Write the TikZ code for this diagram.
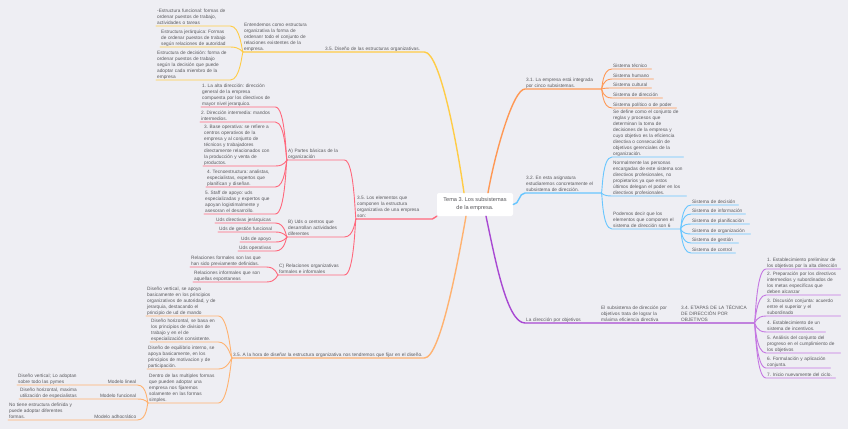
\documentclass[tikz,border=0pt]{standalone}
\usepackage{fontspec}
\setmainfont{Liberation Sans}
\usepackage{tikz}

\definecolor{bg}{RGB}{238,238,243}
\definecolor{ink}{RGB}{88,88,92}
\definecolor{ylw}{RGB}{255,204,70}
\definecolor{rd}{RGB}{255,104,124}
\definecolor{org}{RGB}{255,152,84}
\definecolor{lorg}{RGB}{255,178,112}
\definecolor{blu}{RGB}{104,198,255}
\definecolor{prp}{RGB}{168,72,210}
\definecolor{lprp}{RGB}{196,118,226}

\begin{document}
\begin{tikzpicture}[x=1pt,y=-1pt,
    lbl/.style={anchor=south west,inner xsep=1pt,inner ysep=0pt,align=left,
      text=ink,font=\fontsize{4.75}{5.9}\selectfont\frenchspacing,execute at end node=\strut},
    hub/.style={fill=white,rounded corners=2pt,minimum width=76pt,minimum height=23pt,
      align=center,text=ink,font=\fontsize{5.6}{8}\selectfont\frenchspacing},
    trunk/.style={line width=1.4pt,line cap=round},
    twig/.style={line width=0.9pt,line cap=round},
    rkid/.style={out=0,in=180,out distance=1pt,in distance=10pt},
    lkid/.style={out=180,in=0,out distance=1pt,in distance=10pt}]

    \useasboundingbox (0,0) rectangle (848,429);
    \fill[bg] (0,0) rectangle (848,429);

    % Centre
    \node[hub] (ctr) at (475,204.5) {Tema 3. Los subsistemas\\de la empresa.};

    % Diseno de las estructuras
    \node[lbl,text width=98pt] (dis) at (324,52) {3.5. Diseño de las estructuras organizativas.};
    \node[lbl,text width=73pt] (ent) at (243,52) {Entendemos como estructura\\organizativa la forma de\\ordenanr todo el conjunto de\\relaciones existentes de la\\empresa.};
    \node[lbl,text width=72pt] (efu) at (156,26) {-Estructura funcional: formas de\\ordenar puestos de trabajo,\\actividades o tareas};
    \node[lbl,text width=68pt] (eje) at (160,47) {Estructura jerárquica: Formas\\de ordenar puestos de trabajo\\según relaciones de autoridad};
    \node[lbl,text width=72pt] (ede) at (156,80) {Estructura de decisión: forma de\\ordenar puestos de trabajo\\según la decisión que puede\\adoptar cada miembro de la\\empresa};

    % Elementos de la estructura
    \node[lbl,text width=74pt] (ele) at (356,219) {3.5. Los elementos que\\componen la estructura\\organizativa de una empresa\\son:};
    \node[lbl,text width=55pt] (pba) at (287,160) {A) Partes básicas de la\\organización};
    \node[lbl,text width=55pt] (uds) at (287,237) {B) Uds o centros que\\desarrollan actividades\\diferentes};
    \node[lbl,text width=64pt] (rel) at (278,275) {C) Relaciones organizativas\\formales e informales};
    \node[lbl,text width=72pt] (a1) at (201,107) {1. La alta dirección: dirección\\general de la empresa\\compuesta por los directivos de\\mayor nivel jerarquico.};
    \node[lbl,text width=73pt] (a2) at (200,122) {2. Dirección intermedia: mandos\\intermedios.};
    \node[lbl,text width=70pt] (a3) at (203,166) {3. Base operativa: se refiere a\\centros operativos de la\\empresa y al conjunto de\\técnicos y trabajadores\\directamente relacionados con\\la producción y venta de\\productos.};
    \node[lbl,text width=67pt] (a4) at (206,187) {4. Tecnoestructura: analistas,\\especialistas, expertos que\\planifican y diseñan.};
    \node[lbl,text width=69pt] (a5) at (204,214) {5. Staff de apoyo: uds\\especializadas y expertos que\\apoyan logistimalmente y\\asesoran el desarrollo.};
    \node[lbl,text width=58pt] (b1) at (215,223) {Uds directivas jerárquicas};
    \node[lbl,text width=55pt] (b2) at (218,232) {Uds de gestión funcional};
    \node[lbl,text width=33pt] (b3) at (240,242) {Uds de apoyo};
    \node[lbl,text width=35pt] (b4) at (238,251) {Uds operativas};
    \node[lbl,text width=74pt] (c1) at (190,267) {Relaciones formales son las que\\han sido previamente definidas.};
    \node[lbl,text width=71pt] (c2) at (193,282) {Relaciones informales que son\\aquellas espontaneas};

    % A la hora de disenar
    \node[lbl,text width=190pt] (hor) at (232,358) {3.5. A la hora de diseñar la estructura organizativa nos tendremos que fijar en el diseño.};
    \node[lbl,text width=70pt] (dv) at (146,316) {Diseño vertical, se apoya\\basicamente en los principios\\organizativos de autoridad, y de\\jerarquia, destacando el\\principio de ud de mando};
    \node[lbl,text width=66pt] (dh) at (150,342) {Diseño horizontal, se basa en\\los principios de division de\\trabajo y en el de\\especialización consistente.};
    \node[lbl,text width=69pt] (deq) at (147,369) {Diseño de equilibrio interno, se\\apoya basicamente, en los\\principios de motivacion y de\\participación.};
    \node[lbl,text width=68pt] (den) at (148,403) {Dentro de las multiples formas\\que pueden adoptar una\\empresa nos fijaremos\\solamente en las formas\\simples.};
    \node[lbl,text width=35pt,align=right] (mli) at (100,385) {Modelo lineal};
    \node[lbl,text width=41pt,align=right] (mfu) at (94,399) {Modelo funcional};
    \node[lbl,text width=46pt,align=right] (mad) at (89,420) {Modelo adhocrático};
    \node[lbl,text width=81pt] (vli) at (17,385) {Diseño vertical; Lo adoptan\\sobre todo las pymes};
    \node[lbl,text width=73pt] (hfu) at (19,399) {Diseño horizontal, maxima\\utilización de especialistas};
    \node[lbl,text width=79pt] (nti) at (8,420) {No tiene estructura definida y\\puede adoptar diferentes\\formas.};

    % Cinco subsistemas
    \node[lbl,text width=74pt] (int) at (525,89) {3.1. La empresa está integrada\\por cinco subsistemas.};
    \node[lbl,text width=37pt] (st1) at (612,69) {Sistema técnico};
    \node[lbl,text width=39pt] (st2) at (612,79) {Sistema humano};
    \node[lbl,text width=37pt] (st3) at (612,88) {Sistema cultural};
    \node[lbl,text width=48pt] (st4) at (612,98) {Sistema de dirección};
    \node[lbl,text width=62pt] (st5) at (612,108) {Sistema político o de poder};

    % Subsistema de direccion
    \node[lbl,text width=74pt] (sub) at (525,193) {3.2. En esta asignatura\\estudiaremos concretamente el\\subsistema de dirección.};
    \node[lbl,text width=69pt] (sdf) at (612,157) {Se define como el conjunto de\\reglas y procesos que\\determinan la toma de\\decisiones de la empresa y\\cuyo objetivo es la eficiencia\\directiva o consecución de\\objetivos gerenciales de la\\organización.};
    \node[lbl,text width=72pt] (nor) at (612,196) {Normalmente las personas\\encargadas de este sistema son\\directivos profesionales, no\\propietarios ya que estos\\últimos delegan el poder en los\\directivos profesionales.};
    \node[lbl,text width=66pt] (pod) at (612,229) {Podemos decir que los\\elementos que componen el\\sistema de dirección son 6};
    \node[lbl,text width=45pt] (sd1) at (691,205) {Sistema de decisión};
    \node[lbl,text width=52pt] (sd2) at (691,214) {Sistema de información};
    \node[lbl,text width=56pt] (sd3) at (691,224) {Sistema de planificación};
    \node[lbl,text width=57pt] (sd4) at (691,234) {Sistema de organización};
    \node[lbl,text width=45pt] (sd5) at (691,243) {Sistema de gestión};
    \node[lbl,text width=42pt] (sd6) at (691,253) {Sistema de control};

    % Direccion por objetivos
    \node[lbl,text width=73pt] (dpo) at (525,323) {La dirección por objetivos};
    \node[lbl,text width=78pt] (sdo) at (600,323) {El subsistema de dirección por\\objetivos trata de lograr la\\máxima eficiencia directiva};
    \node[lbl,text width=72pt] (eta) at (680,323) {3.4. ETAPAS DE LA TÉCNICA\\DE DIRECCIÓN POR\\OBJETIVOS};
    \node[lbl,text width=72pt] (e1) at (766,269) {1. Establecimiento preliminar de\\los objetivos por la alta dirección};
    \node[lbl,text width=72pt] (e2) at (766,295) {2. Preparación por los directivos\\intermedios y subordinados de\\los metas específicas que\\deben alcanzar};
    \node[lbl,text width=72pt] (e3) at (766,316) {3. Discusión conjunta: acuerdo\\entre el superior y el\\subordinado};
    \node[lbl,text width=57pt] (e4) at (766,332) {4. Establecimiento de un\\sistema de incentivos.};
    \node[lbl,text width=72pt] (e5) at (766,353) {5. Análisis del conjunto del\\progreso en el cumplimiento de\\los objetivos};
    \node[lbl,text width=62pt] (e6) at (766,368) {6. Formulación y aplicación\\conjunta.};
    \node[lbl,text width=67pt] (e7) at (766,378) {7. Inicio nuevamente del ciclo.};

    % Yellow branch
    \draw[ylw,trunk] ([xshift=-11pt]ctr.north) to[out=98,in=0,out distance=45pt,in distance=16pt] (dis.south east)
      -- (dis.south west) -- (ent.south east) -- (ent.south west);
    \foreach \n in {efu,eje,ede}
      \draw[ylw,twig] (ent.south west) to[lkid] (\n.south east) -- (\n.south west);

    % Red branch
    \draw[rd,trunk] (ctr.south west) -- (ele.south east) -- (ele.south west);
    \foreach \n in {pba,uds,rel}
      \draw[rd,twig] (ele.south west) to[lkid] (\n.south east) -- (\n.south west);
    \foreach \n in {a1,a2,a3,a4,a5}
      \draw[rd,twig] (pba.south west) to[lkid] (\n.south east) -- (\n.south west);
    \foreach \n in {b1,b2,b3,b4}
      \draw[rd,twig] (uds.south west) to[lkid] (\n.south east) -- (\n.south west);
    \foreach \n in {c1,c2}
      \draw[rd,twig] (rel.south west) to[lkid] (\n.south east) -- (\n.south west);

    % Light orange branch
    \draw[lorg,trunk] ([xshift=-9pt]ctr.south) to[out=-100,in=0,out distance=45pt,in distance=16pt] (hor.south east)
      -- (hor.south west);
    \foreach \n in {dv,dh,deq,den}
      \draw[lorg,twig] (hor.south west) to[lkid] (\n.south east) -- (\n.south west);
    \foreach \n/\m in {mli/vli,mfu/hfu,mad/nti}
      \draw[lorg,twig] (den.south west) to[lkid] (\n.south east) -- (\n.south west) -- (\m.south east) -- (\m.south west);

    % Orange branch
    \draw[org,trunk] ([xshift=13pt]ctr.north) to[out=80,in=180,out distance=40pt,in distance=12pt] (int.south west)
      -- (int.south east);
    \foreach \n in {st1,st2,st3,st4,st5}
      \draw[org,twig] (int.south east) to[rkid] (\n.south west) -- (\n.south east);

    % Blue branch
    \draw[blu,trunk] (ctr.east) to[out=0,in=180] (sub.south west) -- (sub.south east);
    \foreach \n in {sdf,nor,pod}
      \draw[blu,twig] (sub.south east) to[rkid] (\n.south west) -- (\n.south east);
    \foreach \n in {sd1,sd2,sd3,sd4,sd5,sd6}
      \draw[blu,twig] (pod.south east) to[rkid] (\n.south west) -- (\n.south east);

    % Purple branch
    \draw[prp,trunk] ([xshift=11pt]ctr.south) to[out=-78,in=180,out distance=45pt,in distance=18pt] (dpo.south west)
      -- (dpo.south east) -- (sdo.south west) -- (sdo.south east) -- (eta.south west) -- (eta.south east);
    \foreach \n in {e1,e2,e3,e4,e5,e6,e7}
      \draw[lprp,twig] (eta.south east) to[rkid] (\n.south west) -- (\n.south east);
\end{tikzpicture}
\end{document}
